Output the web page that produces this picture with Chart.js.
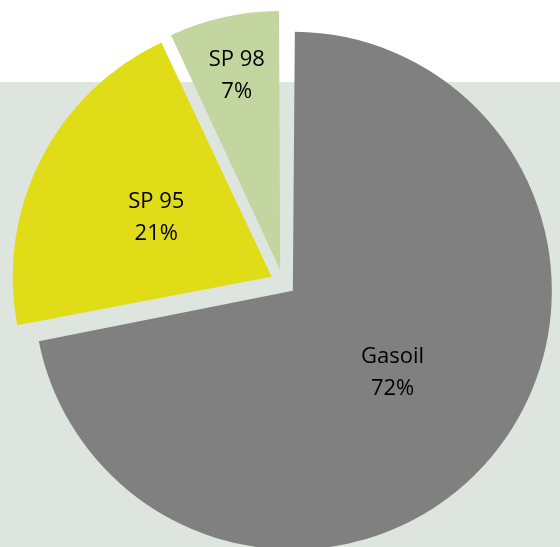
<!DOCTYPE html>
<html lang="fr">
<head>
    <meta charset="UTF-8">
    <title>Répartition des carburants</title>
    <script src="https://cdn.jsdelivr.net/npm/chart.js"></script>
    <style>
        html, body { margin: 0; padding: 0; background: #fff; }
        #cadre {
            position: relative; width: 560px; height: 547px; overflow: hidden;
            background: linear-gradient(#fff 0, #fff 82px, #dee5df 82px);
        }
    </style>
</head>
<body>
    <div id="cadre"><canvas id="carburantsChart" width="560" height="547"></canvas></div>
    <script>
        // données
        const categories = ['Gasoil', 'SP 95', 'SP 98'];
        const parts = [72, 21, 7];
        const couleurs = ['#808080', '#e0dc18', '#c4d69f'];

        const RAYON = 259;      // rayon visible des parts
        const DECALAGE = 51;    // chart.js translate de offset/4
        const posEtiquette = [0.5, 0.5, 0.77]; // distance du texte au centre (fraction du rayon)

        // chart.js agrandit aussi le rayon des parts décalées, on remet tout au même rayon
        const memeRayon = {
            id: 'memeRayon',
            afterDatasetUpdate(chart, args) {
                args.meta.data.forEach(arc => {
                    const fix = 1 - Math.sin(Math.min(Math.PI, arc.circumference));
                    arc.outerRadius = RAYON - (DECALAGE / 4) * fix;
                });
            }
        };

        const etiquettes = {
            id: 'etiquettes',
            afterDatasetsDraw(chart) {
                const ctx = chart.ctx;
                const total = parts.reduce((a, b) => a + b, 0);
                ctx.save();
                ctx.font = '22px "Open Sans"';
                ctx.fillStyle = '#000';
                ctx.textAlign = 'center';
                ctx.textBaseline = 'middle';
                chart.getDatasetMeta(0).data.forEach((arc, i) => {
                    const mid = (arc.startAngle + arc.endAngle) / 2;
                    const d = DECALAGE / 4 + RAYON * posEtiquette[i];
                    const x = arc.x + Math.cos(mid) * d;
                    const y = arc.y + Math.sin(mid) * d;
                    ctx.fillText(categories[i], x, y - 16);
                    ctx.fillText(Math.round(parts[i] / total * 100) + '%', x, y + 16);
                });
                ctx.restore();
            }
        };

        const ctx = document.getElementById('carburantsChart').getContext('2d');
        new Chart(ctx, {
            type: 'pie',
            data: {
                labels: categories,
                datasets: [{
                    data: parts,
                    backgroundColor: couleurs,
                    borderWidth: 0,
                    offset: DECALAGE,
                    hoverOffset: DECALAGE,
                    radius: RAYON
                }]
            },
            options: {
                responsive: false,
                animation: false,
                layout: { padding: { left: 6, top: 18, right: 0, bottom: 0 } },
                plugins: {
                    legend: { display: false },
                    tooltip: { enabled: false }
                }
            },
            plugins: [memeRayon, etiquettes]
        });
    </script>
</body>
</html>
